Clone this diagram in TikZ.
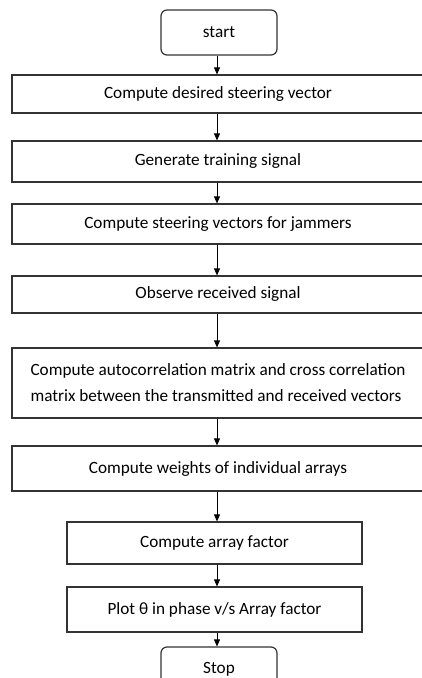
\documentclass[tikz,border=0pt]{standalone}
\usepackage{fontspec}
\setmainfont{Carlito}
\usepackage{tikz}
\usetikzlibrary{arrows.meta, positioning}

\begin{document}
\begin{tikzpicture}[
    x=1pt, y=-1pt,
    stepbox/.style={draw=black!80, line width=1.2pt, align=center, inner sep=0pt,
        font=\fontsize{17.2}{26}\selectfont},
    endbox/.style={stepbox, rounded corners=6pt, minimum width=116pt, minimum height=45pt},
    widebox/.style={stepbox, minimum width=412pt},
    midbox/.style={stepbox, minimum width=295pt},
    arrow/.style={-{Triangle[length=7pt, width=6pt]}, line width=0.8pt}
]
    \useasboundingbox (0,0) rectangle (422,678);
    \coordinate (axis) at (217,0);

    \node[endbox]                         (start)   at (219,32.5)  {start};
    \node[widebox, minimum height=38pt]   (desired) at (218,94)    {Compute desired steering vector};
    \node[widebox, minimum height=41pt]   (train)   at (218,161.5) {Generate training signal};
    \node[widebox, minimum height=40pt]   (jam)     at (218,224)   {Compute steering vectors for jammers};
    \node[widebox, minimum height=37pt]   (recv)    at (218,294.5) {Observe received signal};
    \node[widebox, minimum height=70pt, align=left] (corr) at (218,383)
        {Compute autocorrelation matrix and cross correlation\\matrix between the transmitted and received vectors};
    \node[widebox, minimum height=45pt]   (weights) at (218,468.5) {Compute weights of individual arrays};
    \node[midbox, minimum height=42pt]    (af)      at (214.5,543) {Compute array factor};
    \node[midbox, minimum height=45pt]    (plot)    at (214.5,609.5) {Plot θ in phase v/s Array factor};
    \node[endbox]                         (stop)    at (219,669.5) {Stop};

    \foreach \a/\b in {start/desired, desired/train, train/jam, jam/recv,
                       recv/corr, corr/weights, weights/af, af/plot, plot/stop}
        \draw[arrow] (\a.south -| axis) -- (\b.north -| axis);
\end{tikzpicture}
\end{document}
